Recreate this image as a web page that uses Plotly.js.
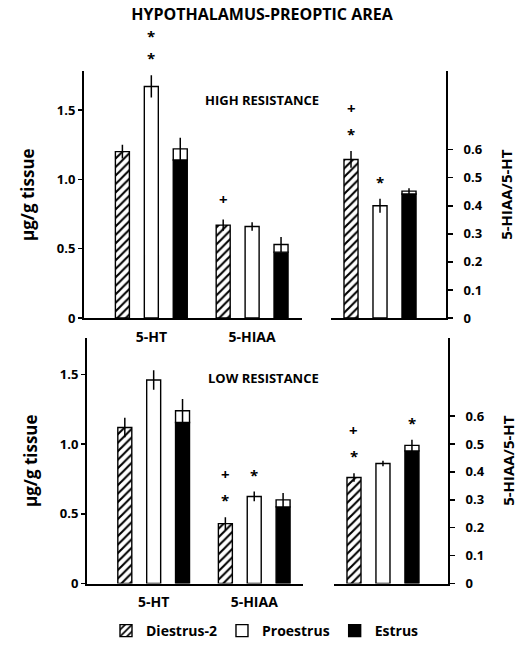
<!DOCTYPE html>
<html><head><meta charset="utf-8">
<script src="https://cdn.plot.ly/plotly-3.0.1.min.js"></script>
<style>html,body{margin:0;padding:0;background:#fff}</style>
</head><body><div id="chart" style="width:522px;height:647px"></div>
<script>
// ---------- data ----------
const groups = ['Diestrus-2', 'Proestrus', 'Estrus'];
const amines = ['5-HT', '5-HIAA'];
const ratioCat = ['5-HIAA/5-HT'];

// HIGH RESISTANCE, µg/g tissue  [5-HT, 5-HIAA]
const highDiestrus = [1.20, 0.67];
const highDiestrusErr = [0.05, 0.04];
const highProestrus = [1.67, 0.66];
const highProestrusErr = [0.08, 0.03];
const highEstrus = [1.22, 0.53];
const highEstrusErr = [0.08, 0.055];
// HIGH RESISTANCE ratio [Diestrus-2, Proestrus, Estrus]
const highRatio = [0.565, 0.40, 0.452];
const highRatioErr = [0.03, 0.025, 0.01];

// LOW RESISTANCE
const lowDiestrus = [1.12, 0.43];
const lowDiestrusErr = [0.07, 0.045];
const lowProestrus = [1.46, 0.625];
const lowProestrusErr = [0.07, 0.035];
const lowEstrus = [1.24, 0.60];
const lowEstrusErr = [0.085, 0.05];
const lowRatio = [0.38, 0.43, 0.495];
const lowRatioErr = [0.015, 0.01, 0.02];

// significance marks (read bottom to top), per group: [5-HT, 5-HIAA]
const highSigConc = [['', '+'], ['**', ''], ['', '']];
const highSigRatio = ['*+', '*', ''];
const lowSigConc = [['', '*+'], ['', '*'], ['', '']];
const lowSigRatio = ['*+', '', '*'];

// ---------- styling ----------
const FONT = 'Open Sans, Liberation Sans, Arial, sans-serif';
const SLOT = 0.287, BW = 0.139;
const offsets = [-SLOT - BW / 2, -BW / 2, SLOT - BW / 2];
const outline = {color: '#000', width: 1.4};
const errStyle = (arr) => ({type: 'data', array: arr, visible: true, color: '#000', thickness: 1.5, width: 0});
const W = 522, H = 647;
const px = v => v / W, py = v => 1 - v / H;

const traces = [];
const annotations = [];

function addPanel(xa, ya, x, vals, errs, sigs, legend) {
  vals.forEach((v, g) => {
    const e = errs[g];
    const common = {type: 'bar', x: x, xaxis: xa, yaxis: ya, offset: offsets[g], width: BW,
      legendgroup: groups[g], name: groups[g], hoverinfo: 'skip'};
    if (g === 0) {
      traces.push(Object.assign({}, common, {y: v, showlegend: legend,
        marker: {color: '#fff', line: outline,
          pattern: {shape: '/', fgcolor: '#000', bgcolor: '#fff', size: 6, solidity: 0.35}},
        error_y: errStyle(e)}));
    } else if (g === 1) {
      traces.push(Object.assign({}, common, {y: v, showlegend: legend,
        marker: {color: '#fff', line: outline}, error_y: errStyle(e)}));
    } else {
      // black bar up to lower error limit, open cap up to the mean
      traces.push(Object.assign({}, common, {y: v.map((m, i) => m - e[i]), showlegend: legend,
        marker: {color: '#000', line: outline}}));
      traces.push(Object.assign({}, common, {y: e, base: v.map((m, i) => m - e[i]), showlegend: false,
        marker: {color: '#fff', line: outline}, error_y: errStyle(e)}));
    }
    v.forEach((m, i) => {
      const s = sigs[g][i] || '';
      s.split('').forEach((ch, k) => {
        annotations.push({xref: xa, yref: ya, x: i + (g - 1) * SLOT, y: m + e[i],
          text: ch, showarrow: false, xanchor: 'center', yanchor: 'middle',
          yshift: (ch === '*' ? 17 : 21) + k * 22,
          font: {family: FONT, size: 15, weight: 700, color: '#000'}});
      });
    });
  });
}

addPanel('x', 'y', amines, [highDiestrus, highProestrus, highEstrus],
  [highDiestrusErr, highProestrusErr, highEstrusErr], highSigConc, true);
addPanel('x2', 'y2', ratioCat, highRatio.map(r => [r]), highRatioErr.map(r => [r]),
  highSigRatio.map(s => [s]), false);
addPanel('x3', 'y3', amines, [lowDiestrus, lowProestrus, lowEstrus],
  [lowDiestrusErr, lowProestrusErr, lowEstrusErr], lowSigConc, false);
addPanel('x4', 'y4', ratioCat, lowRatio.map(r => [r]), lowRatioErr.map(r => [r]),
  lowSigRatio.map(s => [s]), false);

annotations.push({xref: 'paper', yref: 'paper', x: px(262), y: py(90), text: 'HIGH RESISTANCE',
  showarrow: false, font: {family: FONT, size: 13, weight: 700, color: '#000'}});
annotations.push({xref: 'paper', yref: 'paper', x: px(263), y: py(382), text: 'LOW RESISTANCE',
  showarrow: false, font: {family: FONT, size: 13, weight: 700, color: '#000'}});

const tickFont = {family: FONT, size: 13, weight: 700, color: '#000'};
const concTicks = [0, 0.5, 1, 1.5];
const ratioTicks = [0, 0.1, 0.2, 0.3, 0.4, 0.5, 0.6];

function xAxis(dom, range, anchor, labels) {
  return {domain: dom, range: range, anchor: anchor, type: 'category', showline: true, linewidth: 2,
    linecolor: '#000', ticks: '', showgrid: false, zeroline: false, showticklabels: labels,
    tickfont: {family: FONT, size: 14, weight: 700, color: '#000'}, ticklabelstandoff: 5};
}
function concAxis(dom, range, anchor) {
  return {domain: dom, range: range, anchor: anchor, showline: true, linewidth: 2, linecolor: '#000',
    tickvals: concTicks, ticktext: concTicks.map(t => t === 0 ? '0' : t.toFixed(1)),
    ticks: 'outside', ticklen: 4, tickwidth: 1.5, tickcolor: '#000', showgrid: false, zeroline: false,
    tickfont: tickFont,
    title: {text: 'µg/g tissue', standoff: 18, font: {family: FONT, size: 17, weight: 700, color: '#000'}}};
}
function ratioAxis(dom, range, anchor) {
  return {domain: dom, range: range, anchor: anchor, side: 'right', showline: true, linewidth: 2,
    linecolor: '#000', tickvals: ratioTicks, ticktext: ratioTicks.map(t => t === 0 ? '0' : t.toFixed(1)),
    ticks: 'outside', ticklen: 5, tickwidth: 1.5, tickcolor: '#000', showgrid: false, zeroline: false,
    tickfont: tickFont, ticklabelstandoff: 8,
    title: {text: '5-HIAA/5-HT', standoff: 20, font: {family: FONT, size: 15, weight: 700, color: '#000'}}};
}

const topDom = [py(321), py(72)];
const botDom = [py(589), py(341)];

const layout = {
  width: W, height: H, margin: {l: 0, r: 0, t: 0, b: 0},
  paper_bgcolor: '#fff', plot_bgcolor: 'rgba(0,0,0,0)',
  barmode: 'overlay', bargap: 0,
  title: {text: 'HYPOTHALAMUS-PREOPTIC AREA', x: px(262), y: py(15), xanchor: 'center', yanchor: 'middle',
    xref: 'paper', yref: 'paper', font: {family: FONT, size: 16, weight: 700, color: '#000'}},
  xaxis: xAxis([px(84), px(302)], [-0.668, 1.495], 'y', true),
  yaxis: concAxis(topDom, [0, 1.779], 'x'),
  xaxis2: xAxis([px(331), px(446)], [-0.485, 0.653], 'y2', false),
  yaxis2: ratioAxis(topDom, [0, 0.879], 'x2'),
  xaxis3: xAxis([px(87), px(303)], [-0.663, 1.485], 'y3', true),
  yaxis3: concAxis(botDom, [0, 1.763], 'x3'),
  xaxis4: xAxis([px(334), px(448)], [-0.485, 0.644], 'y4', false),
  yaxis4: ratioAxis(botDom, [0, 0.880], 'x4'),
  legend: {orientation: 'h', x: px(265), xanchor: 'center', y: py(637), yanchor: 'middle',
    font: {family: FONT, size: 14, weight: 700, color: '#000'}, traceorder: 'normal',
    itemclick: false, itemwidth: 30, tracegroupgap: 0},
  annotations: annotations,
  showlegend: true
};
// crossing ticks: inner halves via overlaying axes
layout.yaxis5 = Object.assign({}, layout.yaxis, {overlaying: 'y', showline: false, ticks: 'inside', ticklen: 3,
  showticklabels: false, title: {text: ''}});
layout.yaxis6 = Object.assign({}, layout.yaxis2, {overlaying: 'y2', showline: false, ticks: 'inside', ticklen: 5,
  showticklabels: false, title: {text: ''}});
layout.yaxis7 = Object.assign({}, layout.yaxis3, {overlaying: 'y3', showline: false, ticks: 'inside', ticklen: 3,
  showticklabels: false, title: {text: ''}});
layout.yaxis8 = Object.assign({}, layout.yaxis4, {overlaying: 'y4', showline: false, ticks: 'inside', ticklen: 5,
  showticklabels: false, title: {text: ''}});

Plotly.newPlot('chart', traces, layout, {staticPlot: true, displayModeBar: false});
</script></body></html>
